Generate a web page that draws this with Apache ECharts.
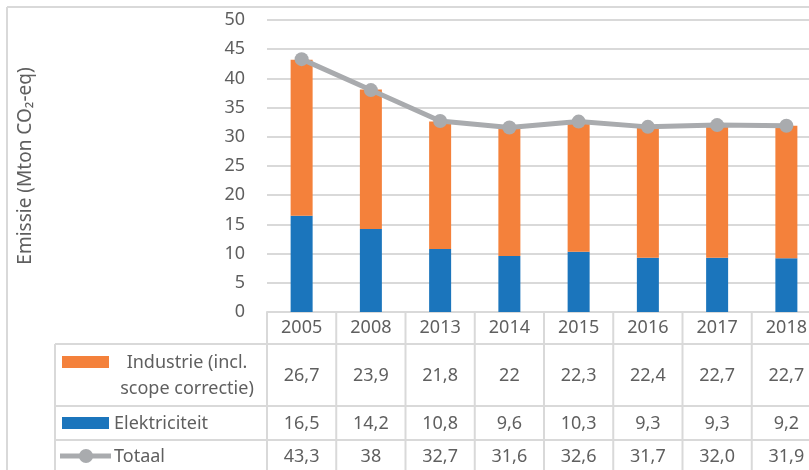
<!DOCTYPE html>
<html>
<head>
<meta charset="utf-8">
<script src="https://cdn.jsdelivr.net/npm/echarts@6/dist/echarts.min.js"></script>
<style>
  html, body { margin: 0; padding: 0; background: #fff; }
  #chart { width: 809px; height: 470px; }
</style>
</head>
<body>
<div id="chart"></div>
<script>
const years = ['2005', '2008', '2013', '2014', '2015', '2016', '2017', '2018']
const industrie = [26.7, 23.9, 21.8, 22, 22.3, 22.4, 22.7, 22.7]
const elektriciteit = [16.5, 14.2, 10.8, 9.6, 10.3, 9.3, 9.3, 9.2]
const totaal = [43.3, 38, 32.7, 31.6, 32.6, 31.7, 32.0, 31.9]
const totaalText = ['43,3', '38', '32,7', '31,6', '32,6', '31,7', '32,0', '31,9']

const ORANGE = '#f4813b'
const BLUE = '#1b75bc'
const GREY = '#a9abae'
const TEXT = '#5f5f5f'
const LINE = '#d9d9d9'
const FONT = '"Noto Sans", sans-serif'

const fmt = (v) => String(v).replace('.', ',')

const chart = echarts.init(document.getElementById('chart'))

chart.setOption({
  animation: false,
  textStyle: { fontFamily: FONT },
  grid: { left: 267, top: 20, width: 554, height: 292, outerBoundsMode: 'none', containLabel: false },
  xAxis: {
    type: 'category',
    data: years,
    axisLine: { lineStyle: { color: LINE, width: 2 } },
    axisTick: { show: false },
    axisLabel: { show: false },
  },
  yAxis: {
    type: 'value',
    min: 0,
    max: 50,
    interval: 5,
    name: 'Emissie (Mton CO₂-eq)',
    nameLocation: 'middle',
    nameGap: 232,
    nameTextStyle: { color: TEXT, fontSize: 19, fontFamily: FONT },
    axisLabel: { color: TEXT, fontSize: 18, margin: 22, fontFamily: FONT },
    splitLine: { lineStyle: { color: LINE, width: 2 } },
    axisLine: { show: false },
    axisTick: { show: false },
  },
  series: [
    {
      name: 'Elektriciteit',
      type: 'bar',
      stack: 'e',
      barWidth: 22,
      data: elektriciteit,
      itemStyle: { color: BLUE },
    },
    {
      name: 'Industrie (incl. scope correctie)',
      type: 'bar',
      stack: 'e',
      data: industrie,
      itemStyle: { color: ORANGE },
    },
    {
      name: 'Totaal',
      type: 'line',
      data: totaal,
      symbol: 'circle',
      symbolSize: 14,
      z: 5,
      lineStyle: { color: GREY, width: 5 },
      itemStyle: { color: GREY },
    },
  ],
})

// data table under the plot, columns aligned with the category axis
function buildTable() {
  const g = []
  const rows = [
    { cy: 328 },
    { cy: 376 },
    { cy: 424 },
    { cy: 457 },
  ]
  const x0 = chart.convertToPixel({ xAxisIndex: 0 }, years[0])
  const x1 = chart.convertToPixel({ xAxisIndex: 0 }, years[1])
  const half = (x1 - x0) / 2
  const textStyle = (text, x, y, align) => ({
    type: 'text',
    x, y,
    style: { text, fill: TEXT, fontSize: 18, fontFamily: FONT, align: align || 'center', verticalAlign: 'middle' },
  })
  const line = (xa, ya, xb, yb) => ({
    type: 'line',
    shape: { x1: xa, y1: ya, x2: xb, y2: yb },
    style: { stroke: LINE, lineWidth: 2 },
  })

  // frame
  g.push(line(7, 7, 809, 7))
  g.push(line(7, 7, 7, 470))

  const lastRight = chart.convertToPixel({ xAxisIndex: 0 }, years[years.length - 1]) + half
  // horizontal table lines
  g.push(line(55, 344, lastRight, 344))
  g.push(line(55, 406, lastRight, 406))
  g.push(line(55, 440, lastRight, 440))
  // left column line
  g.push(line(55, 344, 55, 474))

  years.forEach((y, i) => {
    const cx = chart.convertToPixel({ xAxisIndex: 0 }, y)
    g.push(line(cx - half, 312, cx - half, 474))
    if (i === years.length - 1) g.push(line(cx + half, 312, cx + half, 474))
    g.push(textStyle(y, cx, rows[0].cy))
    g.push(textStyle(fmt(industrie[i]), cx, rows[1].cy))
    g.push(textStyle(fmt(elektriciteit[i]), cx, rows[2].cy))
    g.push(textStyle(totaalText[i], cx, rows[3].cy))
  })

  // legend keys
  g.push({ type: 'rect', shape: { x: 62, y: 356, width: 47, height: 12 }, style: { fill: ORANGE } })
  g.push({
    type: 'text', x: 187, y: 376,
    style: { text: 'Industrie (incl.\nscope correctie)', fill: TEXT, fontSize: 18, fontFamily: FONT, align: 'center', verticalAlign: 'middle', lineHeight: 26 },
  })
  g.push({ type: 'rect', shape: { x: 62, y: 417, width: 47, height: 12 }, style: { fill: BLUE } })
  g.push(textStyle('Elektriciteit', 114, rows[2].cy, 'left'))
  g.push({ type: 'line', shape: { x1: 60, y1: 456, x2: 111, y2: 456 }, style: { stroke: GREY, lineWidth: 5 } })
  g.push({ type: 'circle', shape: { cx: 86, cy: 456, r: 7 }, style: { fill: GREY } })
  g.push(textStyle('Totaal', 114, rows[3].cy, 'left'))

  chart.setOption({ graphic: g })
}

buildTable()
</script>
</body>
</html>
